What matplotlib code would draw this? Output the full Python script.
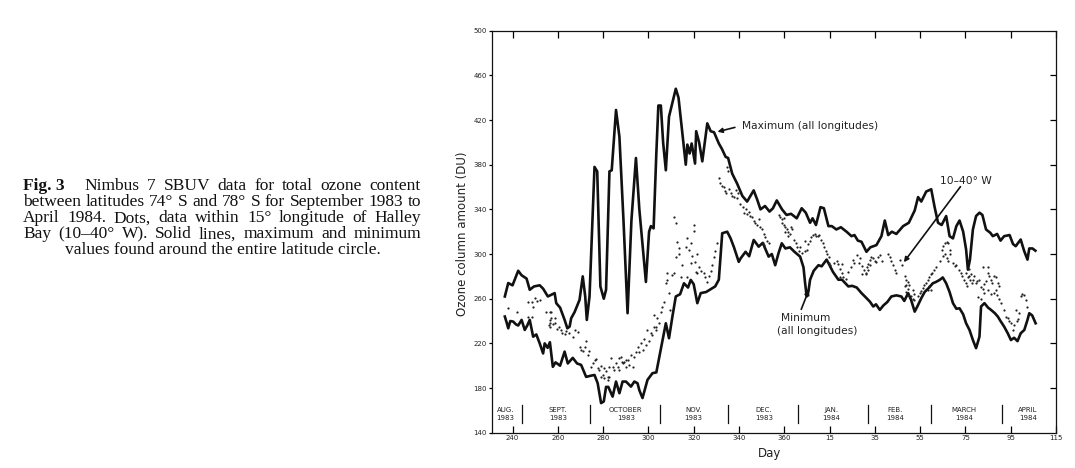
import matplotlib
matplotlib.use('Agg')
import matplotlib.pyplot as plt
from matplotlib.transforms import IdentityTransform

# ---------------- data ----------------
max_days = [236.6, 238.1, 240.0, 242.5, 244.0, 246.2, 247.6, 249.5, 252.0, 253.5, 255.6,
            258.6, 259.3, 261.0, 263.0, 264.2, 265.2, 265.9, 267.4, 269.6, 271.0, 272.1,
            272.8, 274.0, 276.2, 277.4, 278.8, 280.3, 281.3, 282.8, 283.8, 285.7, 287.2,
            289.0, 290.8, 292.5, 294.5, 296.0, 298.9, 300.3, 301.1, 302.3, 303.5, 304.4,
            305.5, 306.5, 307.7, 309.1, 312.1, 313.3, 315.0, 316.5, 317.2, 318.2, 319.1,
            320.6, 321.1, 322.4, 323.8, 326.0, 327.5, 329.0, 331.1, 332.5, 334.1, 335.2,
            337.0, 339.2, 341.5, 343.6, 346.5, 348.0, 349.5, 351.5, 353.5, 355.0, 356.7,
            359.0, 361.0, 363.0, 365.5, 367.7, 369.5, 371.4, 372.5, 374.0, 376.0, 377.5,
            379.5, 381.0, 383.0, 385.0, 387.5, 389.7, 391.0, 392.5, 394.1, 396.3, 398.0,
            400.7, 402.9, 404.4, 405.9, 407.5, 409.5, 412.5, 415.0, 417.6, 419.1, 420.5,
            422.7, 424.9, 426.4, 427.9, 429.5, 431.5, 433.0, 434.5, 436.0, 437.4, 439.0,
            440.3, 441.1, 442.0, 443.3, 444.7, 446.2, 447.5, 449.1, 451.0, 452.1, 454.0,
            455.5, 457.1, 459.5, 461.0, 462.2, 464.4, 465.9, 467.4, 468.2, 469.6, 470.9]
max_du = [262, 274, 272, 285, 281, 278, 268, 271, 272, 269, 262,
          265, 256, 252, 241, 233.5, 235, 242.5, 248, 259, 280, 262,
          241, 262, 378, 374, 271, 260, 268, 374, 375, 429, 405,
          330, 247, 330, 386, 340, 275, 320, 325, 323, 390, 433,
          433, 400, 375, 423, 448, 440, 408, 380, 398, 390, 399,
          381, 410, 400, 383, 417, 410, 409, 399, 394, 387, 386,
          372, 363, 352, 347, 357, 349, 340, 343, 338, 341, 348,
          340, 335, 336, 332, 341, 337, 328, 332, 326, 342, 341,
          325, 325, 322, 324, 320, 316, 317, 312, 311, 302, 306,
          308, 316, 330, 317, 320, 318, 325, 328, 339, 351, 347,
          356, 358, 342, 328, 326, 334, 316, 314, 325, 330, 320,
          304, 286, 295, 322, 334, 337, 335, 322, 319, 316, 318,
          312, 316, 317, 309, 307, 313, 303, 295, 305, 305, 303]

min_days = [236.6, 237.5, 238.1, 239.0, 240.3, 241.5, 242.5, 244.0, 245.4, 246.5, 247.6,
            249.1, 250.5, 252.0, 253.5, 254.2, 255.5, 256.5, 257.8, 259.0, 261.0, 263.0,
            264.4, 266.6, 268.5, 270.3, 272.5, 274.5, 276.2, 277.6, 279.1, 280.3, 281.3,
            282.3, 284.2, 285.7, 287.2, 288.6, 290.1, 292.3, 293.8, 295.2, 296.0, 297.4,
            299.6, 301.8, 303.5, 304.7, 306.2, 307.7, 309.1, 310.6, 312.1, 314.0, 315.7,
            317.5, 318.7, 320.0, 321.6, 323.1, 325.5, 328.2, 329.5, 331.1, 332.6, 334.8,
            336.3, 337.8, 339.9, 340.7, 342.9, 344.5, 346.5, 348.7, 350.5, 352.0, 353.1,
            354.5, 356.0, 357.5, 358.9, 360.5, 362.5, 364.5, 367.0, 368.5, 369.2, 369.9,
            370.7, 371.4, 373.0, 375.1, 376.5, 378.7, 380.0, 381.5, 383.9, 385.5, 388.3,
            390.0, 392.0, 394.1, 395.6, 397.8, 399.3, 400.5, 402.2, 403.8, 405.5, 407.3,
            409.5, 411.7, 413.0, 414.7, 416.0, 417.6, 419.0, 420.5, 422.0, 424.0, 425.6,
            427.0, 428.6, 430.0, 431.5, 433.0, 434.5, 436.0, 437.4, 439.0, 440.3, 441.8,
            443.3, 444.7, 446.2, 446.9, 448.4, 450.0, 451.3, 453.0, 454.3, 455.5, 457.1,
            458.7, 460.1, 461.5, 463.0, 464.4, 466.0, 467.4, 468.2, 469.5, 471.0]
min_du = [244, 238, 233.5, 240, 239.5, 237, 236, 241, 232, 236, 241,
          226, 228, 220, 211, 220, 216, 221, 199, 203, 200, 212.6,
          202, 207, 202, 200.7, 190, 191, 191.7, 184.3, 166.5, 168, 181,
          181, 172.3, 185.8, 175.4, 185.8, 185.8, 181.3, 185.8, 184.3, 178, 171,
          187.3, 193.3, 194, 206.7, 223, 238, 224.6, 244, 262, 264, 273.8,
          270, 276.8, 273, 256, 265, 266, 269.4, 271, 277, 318.6, 320,
          314, 306, 293, 296, 302, 298, 312.6, 306.6, 310, 303, 297.7,
          300, 290, 301, 309.6, 305, 306, 302, 297.7, 288, 274, 262,
          267, 277, 285, 290, 289, 295, 290, 284, 277, 277, 271,
          271.5, 270, 265, 262, 257.4, 253, 255, 250, 254, 257, 262,
          263, 262, 258, 265, 259, 248.4, 254, 260.4, 266, 270, 273.8,
          275, 276.8, 279, 273.8, 266, 256, 251, 251.4, 246, 238, 232,
          223, 215.7, 226, 253, 256, 252, 250, 247, 244, 240, 235,
          229, 223, 225, 222, 229, 232, 241, 247, 245, 238]

dot_days = [238.1, 241.8, 246.9, 248.4, 249.8, 249.1, 248.4, 251.0, 247.0, 252.2,
            255.0, 256.4, 256.5, 257.2, 258.6, 256.0, 258.0, 259.5, 260.5, 261.5,
            257.1, 262.0, 263.0, 263.8, 265.0, 266.5, 267.5, 268.9, 258.6, 256.4, 256.4,
            269.6, 270.3, 271.0, 271.8, 272.5, 273.2, 273.9, 274.7, 275.5, 276.2,
            277.0, 277.6, 278.3, 279.0, 279.8, 280.5, 281.3, 282.0, 282.8, 283.5,
            284.2, 284.9, 285.7, 280.6, 282.8, 279.1, 282.0,
            286.5, 287.2, 287.9, 288.5, 289.4, 290.2, 291.0, 291.6, 292.3, 293.0,
            293.8, 294.5, 295.2, 296.0, 296.7, 297.5, 298.2, 298.9, 299.6, 300.4,
            301.1, 301.8, 302.5, 303.2, 304.0, 304.7, 305.5, 302.6, 303.3, 290.1, 288.6, 287.2,
            306.2, 306.9, 307.7, 308.4, 308.4, 309.1, 309.5, 310.6, 311.4, 311.4,
            312.1, 312.1, 312.8, 313.3, 313.5, 314.3, 315.0, 316.5, 317.2, 317.2,
            317.9, 318.7, 318.7, 319.4, 320.1, 320.1, 320.5, 320.9, 321.6, 321.5,
            322.5, 323.2, 324.5, 325.2, 326.0, 326.7, 327.5, 328.2, 328.9, 329.6, 330.4,
            331.1, 331.8, 332.5, 333.3, 333.7, 334.1, 334.8, 335.2, 335.6, 336.3,
            337.0, 337.7, 338.5, 339.0, 339.5, 340.5, 341.7, 342.3, 343.0, 343.6,
            344.3, 345.0,
            345.8, 346.5, 347.2, 348.0, 348.7, 349.5, 350.2, 351.0, 351.7, 352.4,
            353.1, 350.5, 351.2, 357.6, 358.3, 359.0, 359.7, 359.0, 359.7, 360.4,
            361.1, 361.8, 362.5, 360.4, 361.8, 362.9, 363.6,
            364.3, 365.0, 365.7, 366.4, 367.1, 367.8, 369.2, 369.9, 370.6, 371.3,
            372.0, 372.7, 373.4, 374.1, 374.8, 375.5, 369.2, 376.2, 376.9, 377.6,
            378.3, 379.0, 379.7, 380.4, 381.8, 379.7, 383.2, 383.9, 384.6, 385.7,
            385.3, 385.9, 384.6, 387.3, 388.0, 389.5, 391.0, 390.4,
            392.0, 393.5, 393.0, 394.5, 395.0, 394.3, 396.0, 396.5, 397.0, 397.8,
            398.5, 399.3, 400.0, 400.7, 401.5, 402.2, 403.0, 397.8, 397.0, 396.3,
            405.9, 406.6, 407.3, 408.0, 408.8, 409.5, 411.0, 412.0,
            413.2, 413.9, 414.6, 413.9, 413.2, 414.6, 415.3, 413.9, 414.6, 416.0,
            416.7, 417.4, 417.4, 416.7, 419.1, 419.8, 420.5, 421.2, 421.9, 422.6,
            423.3, 424.0, 424.7, 425.4, 426.1, 423.3, 424.0, 424.7, 426.8,
            428.9, 429.6, 430.3, 431.0, 431.7, 432.4, 433.1, 433.1, 430.3, 431.0,
            431.7, 432.4, 434.5, 435.2, 435.9, 437.3, 438.0, 438.7, 439.4, 440.1,
            440.8, 440.1, 441.5, 442.2, 442.9, 441.5,
            441.1, 442.5, 443.2, 443.9, 444.6, 445.3, 446.0, 446.9, 447.6, 448.3,
            449.0, 449.8, 450.5, 451.2, 451.9, 452.6, 453.3, 454.3, 455.0, 453.6,
            447.6, 449.8, 445.4, 446.8, 448.3, 449.8, 451.2, 452.6, 454.0, 454.8,
            455.7, 457.1, 457.9, 458.7, 459.4, 460.1, 461.5, 460.8, 462.2, 463.0,
            464.4, 465.1, 465.9, 466.6, 467.4, 463.6, 462.9]
dot_du = [251.5, 248.4, 257.4, 257.4, 260.4, 253, 244, 258, 244, 259,
          248.4, 248.4, 241, 243, 238, 236, 237, 233, 235, 232,
          248.4, 229, 228, 231, 229, 226, 232, 230, 242.5, 238, 235,
          217, 214, 213, 217, 222, 210, 213, 199, 202, 205,
          206, 198, 196, 200, 192, 189, 195, 187, 190, 206.7,
          199.2, 196, 202.2, 197.7, 199, 190.2, 190.2,
          199, 207, 208.1, 203, 203.7, 199, 205, 200.7, 210, 199.2,
          208.1, 212, 217.1, 212, 220, 214, 224, 218.6, 232, 222,
          229, 227.6, 235, 232, 242.5, 238, 248, 245.5, 235, 205, 202, 196,
          253, 257, 273.8, 282.8, 276.8, 265, 250, 281, 282.8, 333.5,
          327.6, 297.7, 311, 305, 300, 279.8, 290, 306.6, 314, 279.8,
          304, 309.6, 291.7, 298, 326, 321, 293, 284.2, 282.8, 300,
          288, 285, 282.8, 279, 275.3, 280, 285, 290, 297.7, 303, 309.6,
          367.9, 364, 361, 360, 356, 354.4, 378.2, 374, 358, 355,
          352, 351.4, 357.4, 350, 355, 345, 342, 337, 340, 336,
          338, 334,
          333, 330, 328, 326, 331, 324, 322, 318, 315, 312,
          310, 310, 308, 335, 333, 331, 332, 328, 326, 324,
          322, 320, 318, 320, 316, 324, 322,
          313, 310, 306, 303, 306, 301, 303, 304, 309, 312,
          315, 317, 318, 316, 316, 317, 312, 313, 310, 306,
          303, 300, 297, 290, 292, 292, 294, 291, 287, 291,
          283, 279, 279, 278, 284, 288, 292, 295,
          299, 296, 292, 289, 285.8, 282, 282, 288, 291, 295,
          297.7, 296, 294, 293, 297, 299.2, 294, 290, 286, 283,
          300, 297, 294, 290, 285.8, 283, 294.7, 290,
          280, 277, 275, 272, 271, 269, 272, 266, 263, 262,
          260, 259, 264, 268, 262, 265, 267, 270, 272, 274,
          277, 279, 282, 283, 286, 268, 271, 268, 288,
          294, 304, 307, 310, 311, 310, 304, 300, 298, 300,
          296, 294, 292, 289, 290, 286, 283, 280, 277, 274,
          271, 283, 280, 277, 274, 287,
          279.8, 282, 277, 280, 274, 276, 277, 270.8, 269, 273,
          276, 282.8, 280, 277, 274, 280, 279, 273.8, 271, 268,
          288, 288, 261.9, 260, 265, 268, 264, 265, 263, 260,
          256, 250, 244, 242.5, 240, 238, 236.6, 232, 250, 242,
          262, 264, 263.4, 259, 253, 247, 240]

x_ticks = [240, 260, 280, 300, 320, 340, 360, 380, 400, 420, 440, 460, 480]
x_tick_labels = ['240', '260', '280', '300', '320', '340', '360',
                 '15', '35', '55', '75', '95', '115']
y_ticks = [140, 180, 220, 260, 300, 340, 380, 420, 460, 500]

month_bounds = [244, 274, 305, 335, 366, 397, 425, 456]
month_labels = ['AUG.\n1983', 'SEPT.\n1983', 'OCTOBER\n1983', 'NOV.\n1983',
                'DEC.\n1983', 'JAN.\n1984', 'FEB.\n1984', 'MARCH\n1984', 'APRIL\n1984']
month_label_days = [236.8, 260.0, 290.0, 320.0, 351.0, 380.7, 409.0, 439.5, 467.7]

caption_lines = [
    ['Fig. 3', 'Nimbus', '7', 'SBUV', 'data', 'for', 'total', 'ozone', 'content'],
    ['between', 'latitudes', '74°', 'S', 'and', '78°', 'S', 'for', 'September', '1983', 'to'],
    ['April', '1984.', 'Dots,', 'data', 'within', '15°', 'longitude', 'of', 'Halley'],
    ['Bay', '(10–40°', 'W).', 'Solid', 'lines,', 'maximum', 'and', 'minimum'],
]
caption_last = 'values found around the entire latitude circle.'

# ---------------- figure ----------------
W, H = 1075, 468
fig = plt.figure(figsize=(W / 100, H / 100), dpi=100)
fig.patch.set_facecolor('white')
ax_l, ax_r, ax_t, ax_b = 491.7, 1056.0, 30.7, 432.7
ax = fig.add_axes([ax_l / W, 1 - ax_b / H, (ax_r - ax_l) / W, (ax_b - ax_t) / H])

ax.plot(max_days, max_du, color='#111111', lw=1.9, solid_joinstyle='round')
ax.plot(min_days, min_du, color='#111111', lw=1.9, solid_joinstyle='round')
ax.plot(dot_days, dot_du, ls='none', marker='o', ms=1.6, mew=0, color='#222222')

ax.set_xlim(230.8, 478.8)
ax.set_ylim(140, 500)
ax.set_xticks(x_ticks)
ax.set_xticklabels(x_tick_labels)
ax.set_yticks(y_ticks)
ax.tick_params(axis='x', direction='in', top=True, bottom=True, length=5, width=0.9,
               labelsize=5, pad=2)
ax.tick_params(axis='y', direction='out', left=True, right=False, length=2.5, width=0.9,
               labelsize=5, pad=1)
for lab in ax.get_xticklabels() + ax.get_yticklabels():
    lab.set_family('DejaVu Sans')
    lab.set_color('#222222')
sec = ax.secondary_yaxis('right')
sec.set_yticks(y_ticks[1:-1])
sec.tick_params(direction='in', length=4.5, width=0.9, labelright=False)
sec.spines['right'].set_visible(False)
for s in ax.spines.values():
    s.set_linewidth(0.9)
    s.set_color('#111111')

# month separators and labels
for d in month_bounds:
    ax.plot([d, d], [149, 165], color='#111111', lw=0.9)
for d, lab in zip(month_label_days, month_labels):
    ax.text(d, 156.5, lab, ha='center', va='center', fontsize=5, linespacing=1.35,
            family='DejaVu Sans', color='#222222')

# axis titles
ax.text(-0.0526, 0.496, 'Ozone column amount (DU)', rotation=90, ha='center', va='center',
        fontsize=8.5, family='DejaVu Sans', transform=ax.transAxes, color='#222222')
ax.text(0.493, -0.0505, 'Day', ha='center', va='center', fontsize=8.5,
        family='DejaVu Sans', transform=ax.transAxes, color='#222222')

# annotations
ax.text(341.2, 414.7, 'Maximum (all longitudes)', ha='left', va='center', fontsize=7.7,
        family='DejaVu Sans', color='#222222')
ax.annotate('', xy=(330.5, 409.5), xytext=(338.2, 413.4),
            arrowprops=dict(arrowstyle='-|>', color='#111111', lw=1.2, mutation_scale=7,
                            shrinkA=0, shrinkB=0))
ax.text(440.0, 365.4, '10–40° W', ha='center', va='center', fontsize=7.7,
        family='DejaVu Sans', color='#222222')
ax.annotate('', xy=(412.8, 292.7), xytext=(437.8, 360.3),
            arrowprops=dict(arrowstyle='-|>', color='#111111', lw=1.2, mutation_scale=7,
                            shrinkA=0, shrinkB=0))
ax.text(369.6, 242.5, 'Minimum', ha='center', va='center', fontsize=7.7,
        family='DejaVu Sans', color='#222222')
ax.text(374.5, 231.4, '(all longitudes)', ha='center', va='center', fontsize=7.7,
        family='DejaVu Sans', color='#222222')
ax.annotate('', xy=(370.9, 268.0), xytext=(367.5, 250.5),
            arrowprops=dict(arrowstyle='-|>', color='#111111', lw=1.2, mutation_scale=7,
                            shrinkA=0, shrinkB=0))

# caption (justified text block)
renderer = fig.canvas.get_renderer()
cap_x0, cap_x1 = 23.0, 421.0
cap_fs = 12.5
baseline0, line_step = 190.5, 16.0
for li, words in enumerate(caption_lines):
    y = H - (baseline0 + li * line_step)
    texts = []
    for wi, w in enumerate(words):
        bold = (li == 0 and wi == 0)
        t = fig.text(0, y, w, fontsize=cap_fs, family='Liberation Serif',
                     fontweight='bold' if bold else 'normal', ha='left', va='baseline',
                     transform=IdentityTransform(), color='#111111')
        texts.append(t)
    widths = [t.get_window_extent(renderer=renderer).width for t in texts]
    weights = [2.6 if (li == 0 and i == 0) else 1.0 for i in range(len(words) - 1)]
    gap_unit = (cap_x1 - cap_x0 - sum(widths)) / sum(weights)
    x = cap_x0
    for i, t in enumerate(texts):
        t.set_x(x)
        if i < len(weights):
            x += widths[i] + gap_unit * weights[i]
fig.text((cap_x0 + cap_x1) / 2 + 1, H - (baseline0 + 4 * line_step), caption_last,
         fontsize=cap_fs, family='Liberation Serif', ha='center', va='baseline',
         transform=IdentityTransform(), color='#111111')

fig.savefig('out.png', dpi=100, facecolor='white')
